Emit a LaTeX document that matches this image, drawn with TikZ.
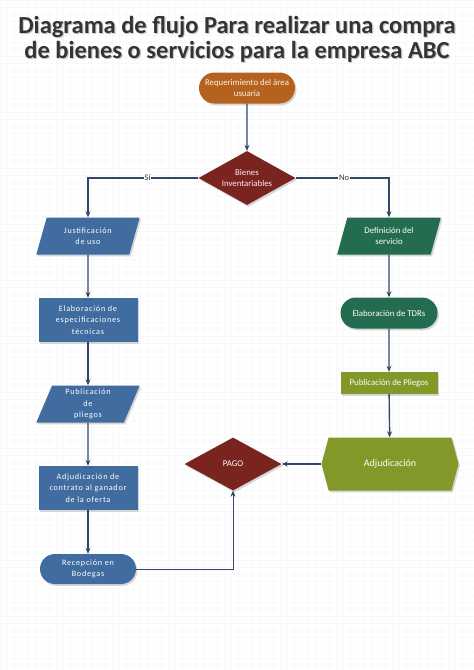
\documentclass[tikz,border=0pt]{standalone}
\usepackage{fontspec}
\setmainfont{Carlito}
\newfontfamily\spacedfont[LetterSpace=9]{Carlito}
\usetikzlibrary{shapes.geometric,shapes.misc,shapes.symbols,shadows,arrows.meta}
\definecolor{startc}{RGB}{181,98,30}
\definecolor{decc}{RGB}{122,36,32}
\definecolor{bluec}{RGB}{64,108,160}
\definecolor{greenc}{RGB}{36,108,80}
\definecolor{olivec}{RGB}{130,152,40}
\definecolor{linec}{RGB}{48,72,102}
\definecolor{titlec}{RGB}{52,52,52}
\tikzset{
  base/.style={text=white, align=center, inner sep=1pt, font=\fontsize{8.8}{11}\selectfont,
    drop shadow={shadow xshift=1.5pt, shadow yshift=-1.8pt, fill=gray!45, opacity=.7}},
  spaced/.style={font=\fontsize{8.2}{11.5}\spacedfont},
  stadium/.style={base, rounded rectangle, minimum width=#1, minimum height=31pt},
  para/.style={base, trapezium, trapezium left angle=72, trapezium right angle=108,
    trapezium stretches=true, minimum width=104pt, minimum height=37pt},
  procbox/.style={base, rectangle, minimum width=99pt, minimum height=44pt},
  decision/.style={base, diamond, aspect=1.83, minimum width=97pt, minimum height=54pt, inner sep=0pt},
  flow/.style={draw=linec, line width=1.4pt, -{Stealth[length=6pt,width=5pt]}},
  thinflow/.style={draw=linec, line width=0.8pt, -{Stealth[length=6pt,width=5pt]}},
  lbl/.style={fill=white, inner sep=1pt, text=titlec, font=\fontsize{8.5}{9}\selectfont},
  titlefont/.style={font=\bfseries\fontsize{24.5}{25}\selectfont, align=center}
}
\begin{document}
\begin{tikzpicture}[x=1pt,y=-1pt]
\useasboundingbox (0,0) rectangle (474,670);
\fill[white] (0,0) rectangle (474,670);
\draw[gray!5, line width=0.3pt, step=7pt] (0,0) grid (474,670);

% title
\node[titlefont, text=gray!45] at (238.2,40.2)
  {Diagrama de flujo Para realizar una compra\\de bienes o servicios para la empresa ABC};
\node (title) [titlefont, text=titlec] at (237,39)
  {Diagrama de flujo Para realizar una compra\\de bienes o servicios para la empresa ABC};

% nodes
\node (req) [stadium=98pt, fill=startc, text=orange!10] at (247,88) {Requerimiento del área\\usuaria};
\node (dec) [decision, fill=decc, text=red!8] at (247,178) {Bienes\\Inventariables};

\node (just) [para, fill=bluec, spaced] at (88,236) {Justificación\\de uso};
\node (espec) [procbox, fill=bluec, spaced] at (88,320) {Elaboración de\\especificaciones\\técnicas};
\node (publ) [para, fill=bluec, spaced] at (88,404) {Publicación\\de\\pliegos};
\node (adjc) [procbox, fill=bluec, spaced] at (88,488) {Adjudicación de\\contrato al ganador\\de la oferta};
\node (recep) [stadium=98pt, fill=bluec, spaced, minimum height=30pt] at (88,569) {Recepción en\\Bodegas};

\node (def) [para, fill=greenc] at (389,236) {Definición del\\servicio};
\node (tdr) [stadium=99pt, fill=greenc] at (389,313) {Elaboración de TDRs};
\node (pplieg) [base, rectangle, fill=olivec, minimum width=97pt, minimum height=22pt] at (389,383) {Publicación de Pliegos};
\node (adj) [base, signal, signal from=nowhere, signal to=east and west, signal pointer angle=150,
  fill=olivec, minimum width=137pt, minimum height=53pt, inner sep=0pt,
  font=\fontsize{10}{12}\selectfont] at (390,464) {Adjudicación};
\node (pago) [decision, fill=decc, minimum height=53pt] at (233,464) {PAGO};

\coordinate (corner) at (233,569);

% connectors
\draw[flow] (req) -- (dec);
\draw[flow] (dec.west) -| node[lbl, pos=0.23] {Sí} (just.north);
\draw[flow] (dec.east) -| node[lbl, pos=0.26] {No} (def.north);
\draw[flow] (just) -- (espec);
\draw[flow] (espec) -- (publ);
\draw[flow] (publ) -- (adjc);
\draw[flow] (adjc) -- (recep);
\draw[flow] (def) -- (tdr);
\draw[flow] (tdr) -- (pplieg);
\draw[flow] (pplieg) -- (adj);
\draw[flow] (adj.west) -- (pago.east);
\draw[thinflow] (recep.east) -- (corner) -- (pago.south);
\end{tikzpicture}
\end{document}
